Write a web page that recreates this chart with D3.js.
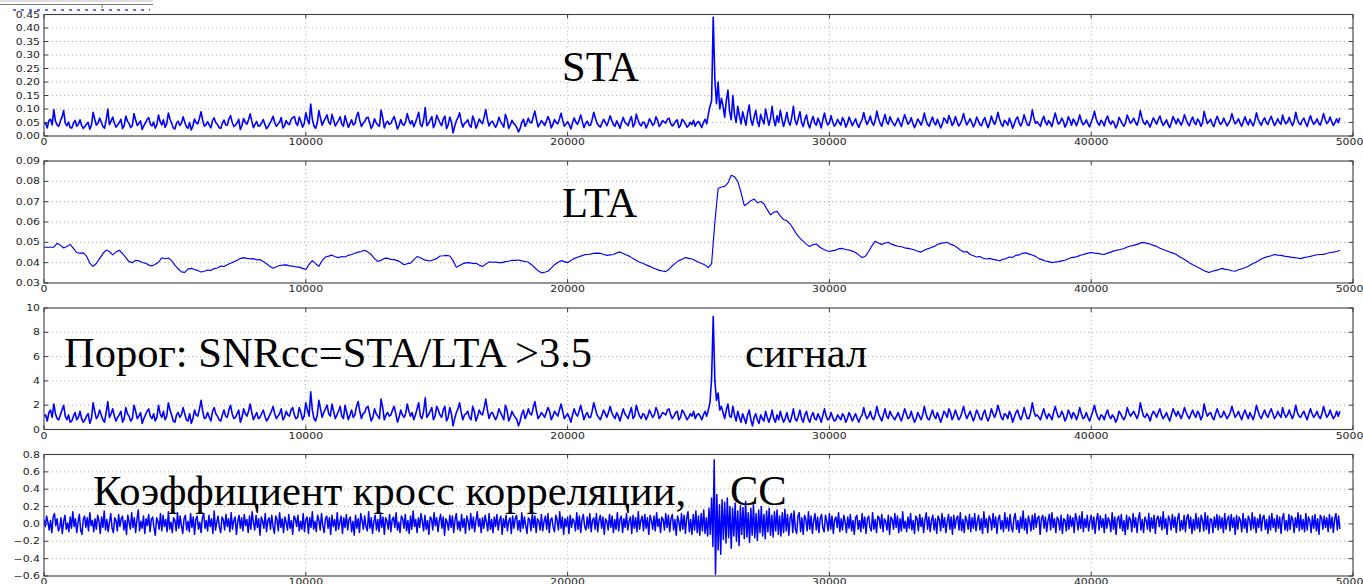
<!DOCTYPE html>
<html><head><meta charset="utf-8">
<script src="https://cdn.jsdelivr.net/npm/d3@7"></script>
<style>
html,body{margin:0;padding:0;background:#fff;overflow:hidden}
svg{display:block}
</style></head><body>
<svg id="chart" width="1363" height="584"></svg>
<script>
// Sample spacing (in samples) of each stored trace
const staStep = 62.5, ltaStep = 125, snrStep = 62.5, ccStep = 50;

// Short-term average
const sta = [
.045,.048,.030,.058,.062,.041,.098,.055,.041,.036,.055,.070,.094,.048,.038,.052,.031,.030,.047,.058,
.036,.044,.060,.039,.028,.035,.044,.051,.025,.040,.088,.062,.040,.047,.066,.052,.035,.029,.058,.100,
.042,.055,.070,.048,.033,.041,.050,.062,.027,.038,.074,.055,.046,.031,.039,.083,.060,.039,.047,.056,
.024,.038,.049,.061,.068,.044,.037,.052,.029,.041,.078,.053,.041,.060,.032,.046,.085,.062,.047,.030,
.026,.048,.055,.039,.047,.071,.052,.034,.029,.050,.022,.037,.063,.049,.045,.066,.090,.057,.036,.042,
.053,.040,.030,.058,.067,.049,.043,.031,.028,.047,.059,.042,.040,.063,.076,.051,.035,.040,.049,.062,
.024,.039,.065,.051,.044,.060,.082,.055,.031,.043,.054,.036,.038,.049,.061,.043,.027,.035,.047,.058,
.073,.050,.036,.044,.052,.068,.030,.038,.057,.046,.042,.061,.068,.072,.048,.039,.070,.054,.033,.045,
.086,.061,.045,.118,.062,.037,.029,.048,.094,.066,.040,.055,.066,.078,.051,.043,.080,.059,.037,.048,
.058,.071,.044,.036,.075,.052,.032,.046,.060,.041,.046,.072,.088,.057,.035,.048,.053,.067,.070,.050,
.028,.040,.064,.049,.041,.036,.096,.068,.030,.047,.055,.043,.047,.061,.072,.050,.026,.039,.061,.045,
.039,.052,.083,.060,.045,.057,.034,.050,.068,.088,.043,.035,.059,.105,.038,.046,.059,.072,.031,.044,
.077,.063,.049,.038,.062,.074,.027,.041,.070,.052,.012,.036,.056,.068,.086,.054,.033,.047,.051,.060,
.040,.032,.074,.058,.029,.043,.063,.052,.046,.070,.098,.061,.037,.050,.055,.043,.032,.045,.069,.054,
.044,.033,.080,.062,.028,.041,.058,.047,.041,.030,.015,.028,.050,.062,.036,.048,.066,.051,.048,.071,
.092,.060,.034,.045,.057,.049,.039,.054,.072,.058,.030,.042,.061,.050,.045,.063,.084,.059,.036,.044,
.053,.041,.026,.049,.067,.052,.043,.058,.078,.054,.031,.046,.055,.040,.040,.061,.088,.066,.047,.038,
.033,.047,.062,.051,.038,.055,.075,.057,.042,.036,.056,.044,.029,.050,.069,.051,.046,.038,.058,.072,
.034,.045,.081,.060,.044,.037,.052,.049,.030,.043,.064,.053,.039,.046,.071,.058,.035,.043,.057,.052,
.048,.062,.066,.047,.037,.044,.054,.060,.031,.039,.062,.055,.045,.033,.039,.051,.042,.058,.036,.049,
.054,.043,.031,.050,.062,.045,.080,.110,.130,.440,.210,.120,.200,.100,.140,.110,.070,.130,.170,.090,
.060,.150,.080,.050,.110,.075,.045,.090,.065,.040,.085,.115,.060,.040,.070,.095,.055,.035,.080,.060,
.045,.100,.070,.040,.065,.110,.060,.038,.075,.050,.095,.062,.035,.058,.088,.052,.040,.070,.110,.058,
.042,.065,.090,.050,.035,.062,.078,.045,.030,.055,.072,.048,.040,.066,.052,.030,.060,.085,.056,.041,
.048,.075,.053,.036,.044,.062,.050,.040,.068,.057,.033,.046,.070,.055,.038,.051,.064,.044,.032,.049,
.061,.087,.060,.043,.055,.074,.050,.039,.058,.092,.065,.047,.036,.060,.080,.052,.043,.071,.057,.046,
.038,.052,.066,.049,.035,.058,.079,.061,.044,.050,.068,.047,.031,.045,.063,.053,.040,.057,.085,.059,
.043,.036,.055,.070,.050,.041,.062,.046,.030,.044,.067,.058,.047,.076,.061,.039,.048,.072,.054,.037,
.045,.060,.083,.058,.041,.052,.064,.049,.034,.047,.070,.056,.042,.038,.057,.068,.046,.031,.049,.074,
.055,.043,.061,.088,.063,.044,.036,.058,.051,.040,.066,.050,.029,.045,.062,.071,.048,.037,.053,.079,
.058,.042,.039,.060,.097,.066,.047,.053,.044,.036,.059,.073,.052,.041,.057,.048,.035,.062,.085,.061,
.044,.050,.066,.054,.033,.046,.071,.058,.040,.063,.052,.038,.055,.078,.056,.042,.047,.060,.045,.034,
.052,.068,.092,.064,.048,.040,.058,.050,.037,.062,.074,.053,.043,.056,.048,.030,.041,.069,.058,.045,
.036,.049,.078,.062,.047,.055,.066,.050,.040,.058,.094,.068,.049,.043,.057,.046,.033,.052,.067,.055,
.044,.061,.074,.053,.039,.048,.060,.043,.031,.050,.072,.059,.045,.064,.052,.040,.055,.079,.061,.046,
.038,.057,.070,.051,.042,.063,.055,.036,.048,.091,.067,.046,.054,.062,.044,.035,.058,.073,.056,.043,
.049,.066,.052,.038,.047,.059,.083,.060,.045,.052,.064,.048,.036,.055,.071,.053,.041,.062,.049,.037,
.056,.086,.063,.048,.040,.058,.067,.051,.042,.060,.073,.055,.039,.049,.064,.050,.044,.078,.057,.045,
.052,.069,.051,.038,.054,.088,.062,.047,.042,.058,.066,.049,.035,.057,.075,.056,.043,.051,.064,.048,
.040,.059,.083,.061,.046,.054,.070,.052,.039,.050,.064,.049,.068
];

// Long-term average
const lta = [
.0476,.0476,.0476,.0476,.0495,.0486,.0472,.0480,.0490,.0470,.0450,.0446,.0448,.0432,.0398,.0382,.0396,.0420,.0445,.0462,
.0455,.0438,.0452,.0461,.0445,.0425,.0405,.0400,.0412,.0409,.0401,.0398,.0388,.0384,.0392,.0402,.0424,.0419,.0423,.0410,
.0388,.0370,.0355,.0352,.0368,.0372,.0366,.0362,.0354,.0358,.0364,.0362,.0371,.0374,.0383,.0381,.0390,.0397,.0404,.0412,
.0420,.0425,.0421,.0419,.0420,.0414,.0415,.0406,.0395,.0382,.0373,.0380,.0386,.0388,.0389,.0384,.0383,.0379,.0378,.0372,
.0366,.0392,.0410,.0395,.0382,.0410,.0428,.0432,.0437,.0429,.0425,.0430,.0428,.0436,.0440,.0446,.0452,.0455,.0461,.0452,
.0440,.0420,.0406,.0412,.0421,.0422,.0416,.0415,.0410,.0402,.0390,.0395,.0398,.0415,.0430,.0424,.0415,.0411,.0408,.0414,
.0420,.0433,.0434,.0436,.0433,.0410,.0378,.0386,.0395,.0399,.0400,.0396,.0397,.0388,.0381,.0393,.0404,.0402,.0403,.0400,
.0400,.0405,.0407,.0412,.0411,.0413,.0409,.0406,.0402,.0390,.0375,.0360,.0350,.0353,.0358,.0373,.0390,.0401,.0410,.0405,
.0400,.0411,.0420,.0427,.0432,.0438,.0440,.0442,.0446,.0447,.0446,.0440,.0436,.0438,.0440,.0448,.0453,.0445,.0438,.0431,
.0420,.0411,.0402,.0397,.0389,.0383,.0375,.0369,.0362,.0359,.0356,.0368,.0385,.0399,.0410,.0417,.0425,.0421,.0418,.0411,
.0402,.0396,.0388,.0376,.0395,.0600,.0765,.0772,.0775,.0792,.0830,.0822,.0800,.0745,.0680,.0691,.0705,.0713,.0695,.0701,
.0690,.0661,.0635,.0648,.0652,.0630,.0612,.0606,.0590,.0566,.0540,.0521,.0505,.0490,.0480,.0489,.0492,.0477,.0467,.0460,
.0455,.0459,.0462,.0469,.0470,.0465,.0462,.0457,.0450,.0437,.0425,.0432,.0455,.0483,.0505,.0497,.0490,.0497,.0500,.0491,
.0485,.0481,.0478,.0473,.0470,.0467,.0462,.0456,.0452,.0461,.0468,.0473,.0480,.0489,.0495,.0497,.0500,.0491,.0485,.0475,
.0462,.0452,.0455,.0440,.0434,.0428,.0430,.0422,.0418,.0421,.0416,.0414,.0408,.0417,.0420,.0428,.0426,.0436,.0438,.0446,
.0448,.0442,.0438,.0431,.0420,.0415,.0408,.0405,.0400,.0403,.0405,.0409,.0412,.0419,.0425,.0427,.0432,.0438,.0442,.0447,
.0450,.0447,.0446,.0442,.0440,.0447,.0452,.0458,.0462,.0465,.0470,.0477,.0482,.0485,.0490,.0496,.0500,.0495,.0492,.0485,
.0480,.0471,.0465,.0459,.0452,.0447,.0440,.0429,.0420,.0411,.0400,.0390,.0382,.0374,.0365,.0357,.0352,.0358,.0362,.0366,
.0372,.0367,.0365,.0360,.0358,.0365,.0370,.0375,.0382,.0392,.0400,.0408,.0418,.0425,.0430,.0434,.0440,.0437,.0436,.0432,
.0430,.0427,.0425,.0423,.0420,.0425,.0428,.0431,.0435,.0439,.0440,.0441,.0445,.0450,.0452,.0455,.0460
];

// STA/LTA ratio
const snr = [
1.1,1.2,0.7,1.4,1.6,1.0,2.1,1.3,0.9,0.8,1.2,1.6,2.0,1.1,0.8,1.2,0.6,0.7,1.1,1.4,
0.8,1.0,1.5,0.9,0.6,0.8,1.1,1.3,0.5,0.9,2.2,1.5,0.9,1.1,1.6,1.2,0.8,0.6,1.4,2.3,
1.0,1.3,1.7,1.1,0.7,1.0,1.2,1.5,0.6,0.9,1.8,1.3,1.1,0.7,0.9,2.0,1.5,0.9,1.1,1.4,
0.5,0.9,1.2,1.5,1.7,1.1,0.9,1.3,0.7,1.0,2.0,1.3,1.0,1.5,0.8,1.1,2.2,1.6,1.2,0.7,
0.6,1.2,1.4,1.0,1.2,1.8,1.3,0.8,0.7,1.3,0.5,0.9,1.6,1.2,1.1,1.7,2.4,1.5,0.9,1.0,
1.4,1.0,0.7,1.5,1.8,1.3,1.1,0.8,0.7,1.2,1.6,1.1,1.0,1.6,2.0,1.3,0.9,1.0,1.3,1.6,
0.6,1.0,1.7,1.3,1.1,1.5,2.1,1.4,0.8,1.1,1.4,0.9,1.0,1.3,1.6,1.1,0.7,0.9,1.2,1.5,
1.9,1.3,0.9,1.1,1.3,1.7,0.8,1.0,1.5,1.2,1.1,1.6,1.8,1.2,0.9,1.0,1.8,1.4,0.8,1.1,
2.2,1.6,1.1,3.1,1.6,0.9,0.7,1.2,2.4,1.7,1.0,1.4,1.7,2.0,1.3,1.1,2.1,1.5,0.9,1.2,
1.5,1.9,1.1,0.9,2.0,1.4,0.8,1.2,1.6,1.0,1.2,1.9,2.3,1.5,0.9,1.3,1.4,1.8,1.9,1.3,
0.7,1.0,1.7,1.3,1.1,0.9,2.5,1.8,0.8,1.2,1.4,1.1,1.2,1.6,1.9,1.3,0.6,1.0,1.6,1.2,
1.0,1.3,2.1,1.5,1.1,1.4,0.8,1.2,1.7,2.2,1.1,0.9,1.5,2.6,1.0,1.2,1.5,1.8,0.8,1.1,
1.9,1.6,1.2,1.0,1.6,1.9,0.7,1.0,1.8,1.3,0.3,0.9,1.4,1.7,2.2,1.4,0.8,1.2,1.3,1.5,
1.0,0.8,1.9,1.5,0.7,1.1,1.6,1.3,1.2,1.8,2.5,1.6,0.9,1.3,1.4,1.1,0.8,1.1,1.7,1.4,
1.1,0.8,2.0,1.6,0.7,1.0,1.5,1.2,1.0,0.8,0.3,0.7,1.3,1.6,0.9,1.2,1.7,1.3,1.2,1.8,
2.3,1.5,0.9,1.1,1.4,1.2,1.0,1.4,1.8,1.5,0.8,1.1,1.5,1.3,1.1,1.6,2.1,1.5,0.9,1.1,
1.3,1.0,0.6,1.2,1.7,1.3,1.1,1.5,2.0,1.4,0.8,1.2,1.4,1.0,1.0,1.5,2.2,1.7,1.2,1.0,
0.8,1.2,1.6,1.3,1.0,1.4,1.9,1.4,1.1,0.9,1.4,1.1,0.7,1.2,1.7,1.3,1.1,0.9,1.4,1.8,
0.9,1.1,2.0,1.5,1.1,0.9,1.3,1.2,0.8,1.1,1.6,1.3,1.0,1.2,1.8,1.5,0.9,1.1,1.4,1.3,
1.2,1.6,1.7,1.2,0.9,1.1,1.4,1.5,0.8,1.0,1.6,1.4,1.1,0.8,1.0,1.3,1.1,1.5,0.9,1.2,
1.3,1.1,0.8,1.2,1.5,1.1,1.6,2.2,4.2,9.3,4.0,2.4,3.0,1.6,1.9,1.4,0.9,1.6,2.1,1.1,
1.0,1.9,1.2,0.7,1.5,1.0,0.6,1.3,0.9,0.5,1.2,1.6,0.8,0.3,1.0,1.3,0.8,0.5,1.2,0.9,
0.7,1.5,1.0,0.6,1.0,1.6,0.9,0.6,1.2,0.8,1.5,1.0,0.6,0.9,1.4,0.8,0.6,1.1,1.7,0.9,
0.7,1.1,1.6,0.9,0.6,1.2,1.5,0.9,0.6,1.1,1.4,0.9,0.8,1.3,1.0,0.6,1.2,1.7,1.1,0.8,
0.9,1.4,1.0,0.7,0.8,1.2,1.0,0.8,1.3,1.1,0.6,0.9,1.4,1.1,0.7,1.0,1.3,0.9,0.6,1.0,
1.2,1.8,1.2,0.9,1.1,1.5,1.0,0.8,1.2,1.9,1.3,1.0,0.7,1.2,1.7,1.1,0.9,1.5,1.2,1.0,
0.8,1.1,1.4,1.0,0.7,1.2,1.7,1.3,0.9,1.0,1.5,1.0,0.6,0.9,1.4,1.1,0.8,1.2,1.9,1.3,
0.9,0.8,1.2,1.6,1.1,0.9,1.4,1.0,0.6,1.0,1.5,1.3,1.0,1.7,1.4,0.8,1.1,1.6,1.2,0.8,
1.0,1.4,1.9,1.3,0.9,1.2,1.5,1.1,0.7,1.1,1.6,1.3,0.9,0.8,1.3,1.6,1.0,0.7,1.1,1.7,
1.3,1.0,1.4,2.0,1.5,1.0,0.8,1.3,1.2,0.9,1.5,1.2,0.6,1.0,1.4,1.6,1.1,0.8,1.2,1.8,
1.3,0.9,0.9,1.4,2.2,1.5,1.1,1.2,1.0,0.8,1.3,1.7,1.2,0.9,1.3,1.1,0.8,1.4,1.9,1.4,
1.0,1.1,1.5,1.2,0.7,1.0,1.6,1.3,0.9,1.4,1.2,0.8,1.2,1.8,1.3,0.9,1.0,1.4,1.0,0.7,
1.1,1.5,2.0,1.4,1.0,0.8,1.2,1.1,0.8,1.3,1.6,1.1,0.9,1.2,1.0,0.6,0.9,1.5,1.3,1.0,
0.8,1.1,1.8,1.4,1.1,1.3,1.5,1.2,0.9,1.3,2.2,1.6,1.1,1.0,1.3,1.1,0.7,1.2,1.5,1.3,
1.0,1.4,1.7,1.2,0.9,1.1,1.4,1.0,0.7,1.2,1.7,1.4,1.1,1.5,1.2,0.9,1.3,1.8,1.4,1.1,
0.9,1.3,1.6,1.2,1.0,1.5,1.3,0.8,1.1,2.1,1.5,1.1,1.3,1.4,1.0,0.8,1.3,1.7,1.3,1.0,
1.1,1.5,1.2,0.9,1.1,1.4,1.9,1.4,1.0,1.2,1.5,1.1,0.8,1.3,1.6,1.2,0.9,1.4,1.1,0.8,
1.3,2.0,1.5,1.1,0.9,1.3,1.6,1.2,1.0,1.4,1.7,1.3,0.9,1.1,1.5,1.2,1.0,1.8,1.3,1.0,
1.2,1.6,1.2,0.9,1.3,2.0,1.4,1.1,1.0,1.3,1.5,1.1,0.8,1.3,1.7,1.3,1.0,1.2,1.5,1.1,
0.9,1.3,1.9,1.4,1.0,1.2,1.6,1.2,0.9,1.1,1.5,1.1,1.5
];

// Cross-correlation coefficient
const cc = [
.05,-.03,.09,.02,-.07,.04,-.10,.08,.12,-.02,.06,-.08,-.04,.07,-.11,.03,.10,-.06,.01,-.09,
.08,-.05,.14,-.03,.06,-.10,.02,.11,-.07,-.12,.05,.09,-.04,.07,-.08,.13,-.02,.04,-.09,.06,
-.06,.10,.03,-.11,.08,-.04,.15,-.07,.05,-.09,.02,.12,-.05,-.10,.07,.04,-.08,.11,-.03,.06,
.09,-.07,.04,-.12,.10,.02,-.06,.13,-.04,.07,-.10,.05,.16,-.08,.03,-.05,.09,-.11,.06,-.02,
.11,-.09,.05,.08,-.04,-.13,.07,.03,-.06,.12,-.08,.10,-.03,.05,-.09,.14,-.06,.02,-.10,.07,
.04,-.08,.13,-.05,.09,-.02,-.11,.06,.10,-.07,.03,-.09,.12,-.04,.08,-.12,.05,.09,-.06,.02,
-.10,.07,.12,-.05,.04,-.08,.10,-.03,.06,-.11,.15,-.07,.02,.09,-.04,-.10,.08,.05,-.07,.11,
-.03,.06,-.09,.13,-.06,.04,.08,-.12,.03,.10,-.05,.07,-.08,.11,-.02,.05,-.10,.09,-.06,.14,
.02,-.07,.10,-.04,.06,-.13,.08,.03,-.05,.12,-.09,.04,.07,-.06,.10,-.03,-.11,.09,.05,-.08,
.13,-.04,.06,-.10,.08,.02,-.07,.11,-.05,.04,-.12,.09,.06,-.03,.10,-.08,.03,-.06,.12,-.09,
.05,.08,-.11,.07,-.04,.14,-.06,.03,-.09,.10,.04,-.07,.12,-.02,-.10,.06,.09,-.05,.07,-.12,
.10,-.03,.05,-.08,.13,-.06,.02,.09,-.11,.07,-.04,.11,-.07,.05,.08,-.09,.03,-.13,.10,-.05,
.06,-.10,.12,.04,-.06,.09,-.03,-.08,.14,-.05,.07,-.11,.03,.10,-.07,.05,-.09,.12,-.04,.08,
-.12,.07,.03,-.06,.11,-.09,.05,.08,-.04,.13,-.07,.02,-.10,.09,.06,-.05,.11,-.08,.04,-.11,
.09,-.06,.15,-.03,.05,-.10,.07,-.04,.12,.03,-.08,.10,-.06,.04,-.12,.08,.06,-.07,.13,-.02,
.07,-.09,.04,.11,-.05,.08,-.13,.06,.02,-.07,.10,-.04,.09,-.10,.05,.12,-.06,.03,-.08,.11,
-.04,.06,-.11,.09,.03,-.07,.12,-.05,.08,-.09,.04,.14,-.03,.06,-.10,.07,-.05,.10,.02,-.08,
.12,-.06,.05,-.10,.08,-.03,.11,-.07,.04,.09,-.12,.06,-.04,.10,-.08,.03,.07,-.11,.09,-.05,
.06,.10,-.07,.04,-.09,.13,-.05,.08,-.02,-.11,.07,.05,-.08,.12,-.04,.09,-.10,.06,.03,-.07,
.11,-.08,.03,.09,-.06,.12,-.10,.05,.07,-.04,-.09,.10,.04,-.07,.14,-.05,.08,-.12,.06,-.03,
.08,-.11,.10,-.04,.06,.03,-.08,.13,-.06,.09,-.10,.05,.11,-.03,-.07,.08,-.05,.12,-.09,.04,
.07,-.06,.12,-.09,.04,.10,-.05,.08,-.12,.06,.03,-.07,.11,-.04,.09,-.10,.05,-.06,.13,-.08,
.05,.09,-.10,.06,-.04,.12,-.07,.03,.08,-.11,.10,-.05,.07,-.09,.14,-.06,.04,.09,-.08,.11,
-.05,.07,-.12,.10,.04,-.06,.09,-.08,.13,-.03,.06,-.10,.08,.05,-.07,.12,-.04,.10,-.09,.06,
.11,-.07,.05,-.13,.09,.03,-.08,.12,-.06,.10,-.11,.07,.14,-.09,.05,-.12,.11,-.07,.15,-.10,
.09,-.13,.12,-.08,.16,-.11,.07,-.14,.18,-.12,.30,-.26,.74,-.58,.34,-.30,.22,-.35,.28,-.18,
.25,-.22,.30,-.16,.20,-.28,.18,-.14,.24,-.20,.15,-.25,.21,-.12,.19,-.17,.26,-.15,.13,-.21,
.18,-.13,.22,-.16,.12,-.19,.16,-.10,.20,-.14,.11,-.17,.15,-.09,.18,-.13,.10,-.15,.14,-.08,
.16,-.12,.09,-.14,.13,-.10,.17,-.08,.11,-.13,.07,.12,-.10,.15,-.06,-.11,.09,.13,-.09,.07,
-.12,.10,.05,-.08,.14,-.06,.09,-.11,.04,.12,-.07,.08,-.10,.06,.11,-.05,-.09,.10,.03,-.08,
.12,-.06,.09,-.11,.05,.08,-.04,.13,-.09,.06,-.07,.10,.03,-.10,.08,-.05,.11,-.08,.04,-.12,
.07,.10,-.06,.04,-.09,.12,-.05,.08,-.11,.06,.09,-.04,-.08,.13,-.06,.05,-.10,.09,.07,-.05,
.11,-.09,.06,.03,-.07,.10,-.12,.08,.05,-.06,.12,-.04,.09,-.10,.06,-.08,.14,-.05,.03,-.09,
.08,-.05,.12,-.07,.04,-.11,.09,.06,-.08,.11,-.03,.07,-.10,.05,.13,-.06,.08,-.09,.04,.10,
-.07,.06,-.11,.09,.05,-.08,.12,-.04,.07,-.10,.03,.11,-.06,.08,-.12,.10,-.05,.06,.09,-.07,
.13,-.08,.05,-.10,.09,.04,-.06,.11,-.09,.07,-.05,.12,-.08,.03,.10,-.07,.06,-.11,.14,-.04,
.06,-.10,.09,.05,-.07,.12,-.04,.08,-.11,.06,.10,-.06,.04,-.09,.13,-.05,.07,-.08,.11,-.03,
-.09,.07,.12,-.06,.04,-.10,.08,-.05,.15,-.07,.06,-.11,.09,.03,-.08,.10,-.06,.12,-.04,.07,
.09,-.12,.06,.10,-.05,.08,-.09,.04,.11,-.07,.13,-.04,.06,-.10,.08,.05,-.07,.10,-.11,.06,
.04,-.08,.11,-.06,.09,-.03,.07,-.10,.12,.05,-.07,.09,-.05,.14,-.09,.06,-.04,.10,-.08,.03,
.10,-.06,.08,-.11,.05,.12,-.07,.09,-.04,.06,-.10,.11,-.05,.07,.03,-.09,.13,-.06,.08,-.12,
.06,.09,-.05,.11,-.08,.04,-.12,.10,-.06,.08,.05,-.09,.12,-.04,.07,-.10,.06,.13,-.07,.05,
-.10,.08,.04,-.06,.12,-.09,.07,-.05,.10,-.11,.06,.09,-.03,.08,-.07,.14,-.05,.06,-.12,.09,
.05,-.07,.11,-.04,.08,-.10,.06,.12,-.08,.04,-.06,.10,-.09,.07,.11,-.05,.08,-.11,.05,-.07,
.12,-.05,.07,-.09,.10,.04,-.08,.13,-.06,.09,-.11,.06,.05,-.10,.08,-.04,.11,-.07,.09,-.05,
.07,-.10,.12,-.06,.05,.09,-.08,.11,-.04,.07,-.12,.10,-.06,.08,.04,-.09,.12,-.05,.06,-.10,
.09,.05,-.07,.13,-.05,.08,-.10,.06,-.04,.11,-.08,.07,.10,-.06,.05,-.11,.09,-.07,.12,-.04,
.06,-.09,.10,-.05,.08,-.11,.06,.12,-.07,.04,-.08,.11,-.06,.09,.05,-.10,.07,-.04,.13,-.08,
.10,-.06,.05,-.09,.12,-.07,.08,.04,-.10,.09,-.05,.11,-.08,.06,-.12,.10,.07,-.06,.09,-.04,
.07,-.09,.11,-.05,.08,-.10,.06,.12,-.07,.09,-.06
];

// Axis ticks
const xTicks   = [0, 10000, 20000, 30000, 40000, 50000];
const staTicks = [0, 0.05, 0.10, 0.15, 0.20, 0.25, 0.30, 0.35, 0.40, 0.45];
const ltaTicks = [0.03, 0.04, 0.05, 0.06, 0.07, 0.08, 0.09];
const snrTicks = [0, 2, 4, 6, 8, 10];
const ccTicks  = [-0.6, -0.4, -0.2, 0.0, 0.2, 0.4, 0.6, 0.8];

// Panel annotations
const staLabels = ["STA"];
const ltaLabels = ["LTA"];
const snrLabels = ["Порог: SNRcc=STA/LTA >3.5", "сигнал"];
const ccLabels  = ["Коэффициент кросс корреляции,", "СС"];

const svg = d3.select("#chart");
const X0 = 44, X1 = 1353;
const x = d3.scaleLinear().domain([0, 50000]).range([X0, X1]);

const panels = [
  {values: sta, step: staStep, domain: [0, 0.45], ticks: staTicks, fmt: d3.format(".2f"),
   top: 14.5, bottom: 136, width: 1.6, labels: staLabels, pos: [[562, 81]]},
  {values: lta, step: ltaStep, domain: [0.03, 0.09], ticks: ltaTicks, fmt: d3.format(".2f"),
   top: 161, bottom: 283, width: 1.15, labels: ltaLabels, pos: [[562, 217]]},
  {values: snr, step: snrStep, domain: [0, 10], ticks: snrTicks, fmt: d3.format("d"),
   top: 308, bottom: 429.5, width: 1.6, labels: snrLabels, pos: [[64, 367], [745, 367]]},
  {values: cc, step: ccStep, domain: [-0.6, 0.8], ticks: ccTicks, fmt: d3.format(".1f"),
   top: 454.5, bottom: 576, width: 1.5, labels: ccLabels, pos: [[93, 505], [730, 505]]}
];

const FRAME = "#3c3c3c";
const TICKFONT = "DejaVu Sans, sans-serif";

// Fragment of the trace strip above the first panel
const strip = svg.append("g");
strip.append("line").attr("x1", 0).attr("x2", 153).attr("y1", 1).attr("y2", 1)
  .attr("stroke", "#bbb").attr("stroke-width", 1);
strip.append("line").attr("x1", 0).attr("x2", 153).attr("y1", 4.5).attr("y2", 4.5)
  .attr("stroke", "#777").attr("stroke-width", 1);
strip.append("line").attr("x1", 102).attr("x2", 102).attr("y1", 4.5).attr("y2", 8)
  .attr("stroke", "#777").attr("stroke-width", 1);
strip.append("line").attr("x1", 13).attr("x2", 150).attr("y1", 10).attr("y2", 10)
  .attr("stroke", "#2a3cff").attr("stroke-width", 1.6).attr("stroke-dasharray", "3,5");

panels.forEach((p, k) => {
  const y = d3.scaleLinear().domain(p.domain).range([p.bottom, p.top]);
  const g = svg.append("g");
  const clipId = "clip" + k;
  svg.append("clipPath").attr("id", clipId).append("rect")
    .attr("x", X0).attr("y", p.top).attr("width", X1 - X0).attr("height", p.bottom - p.top);

  // Dotted grid
  g.selectAll(".hg").data(p.ticks.slice(1, -1)).enter().append("line")
    .attr("x1", X0).attr("x2", X1).attr("y1", d => y(d)).attr("y2", d => y(d))
    .attr("stroke", "#9a9a9a").attr("stroke-width", 0.8).attr("stroke-dasharray", "1,3");
  g.selectAll(".vg").data(xTicks.slice(1, -1)).enter().append("line")
    .attr("x1", d => x(d)).attr("x2", d => x(d)).attr("y1", p.top).attr("y2", p.bottom)
    .attr("stroke", "#9a9a9a").attr("stroke-width", 0.8).attr("stroke-dasharray", "1,3");

  // Trace
  const line = d3.line().x((d, i) => x(i * p.step)).y(d => y(d));
  g.append("path").datum(p.values).attr("d", line)
    .attr("clip-path", `url(#${clipId})`)
    .attr("fill", "none").attr("stroke", "#0000ff")
    .attr("stroke-width", p.width).attr("stroke-linejoin", "round");

  // Frame
  g.append("rect").attr("x", X0).attr("y", p.top)
    .attr("width", X1 - X0).attr("height", p.bottom - p.top)
    .attr("fill", "none").attr("stroke", FRAME).attr("stroke-width", 1.1);

  // Inward tick marks
  xTicks.forEach(t => {
    g.append("line").attr("x1", x(t)).attr("x2", x(t)).attr("y1", p.bottom).attr("y2", p.bottom - 4)
      .attr("stroke", FRAME).attr("stroke-width", 1);
    g.append("line").attr("x1", x(t)).attr("x2", x(t)).attr("y1", p.top).attr("y2", p.top + 4)
      .attr("stroke", FRAME).attr("stroke-width", 1);
  });
  p.ticks.forEach(t => {
    g.append("line").attr("x1", X0).attr("x2", X0 + 4).attr("y1", y(t)).attr("y2", y(t))
      .attr("stroke", FRAME).attr("stroke-width", 1);
    g.append("line").attr("x1", X1).attr("x2", X1 - 4).attr("y1", y(t)).attr("y2", y(t))
      .attr("stroke", FRAME).attr("stroke-width", 1);
  });

  // Tick labels
  g.selectAll(".yl").data(p.ticks).enter().append("text")
    .attr("transform", d => `translate(40,${y(d) + 3}) scale(1.28,1)`)
    .attr("text-anchor", "end").attr("font-family", TICKFONT).attr("font-size", 8.5)
    .attr("fill", "#222").text(d => p.fmt(d));
  g.selectAll(".xl").data(xTicks).enter().append("text")
    .attr("transform", d => `translate(${x(d)},${p.bottom + 9}) scale(1.28,1)`)
    .attr("text-anchor", "middle").attr("font-family", TICKFONT).attr("font-size", 8.5)
    .attr("fill", "#222").text(d => d3.format("d")(d));

  // Annotations
  p.labels.forEach((txt, j) => {
    g.append("text").attr("x", p.pos[j][0]).attr("y", p.pos[j][1])
      .attr("font-family", "Liberation Serif, Times New Roman, serif")
      .attr("font-size", 42.5).attr("fill", "#000").text(txt);
  });
});
</script>
</body></html>
